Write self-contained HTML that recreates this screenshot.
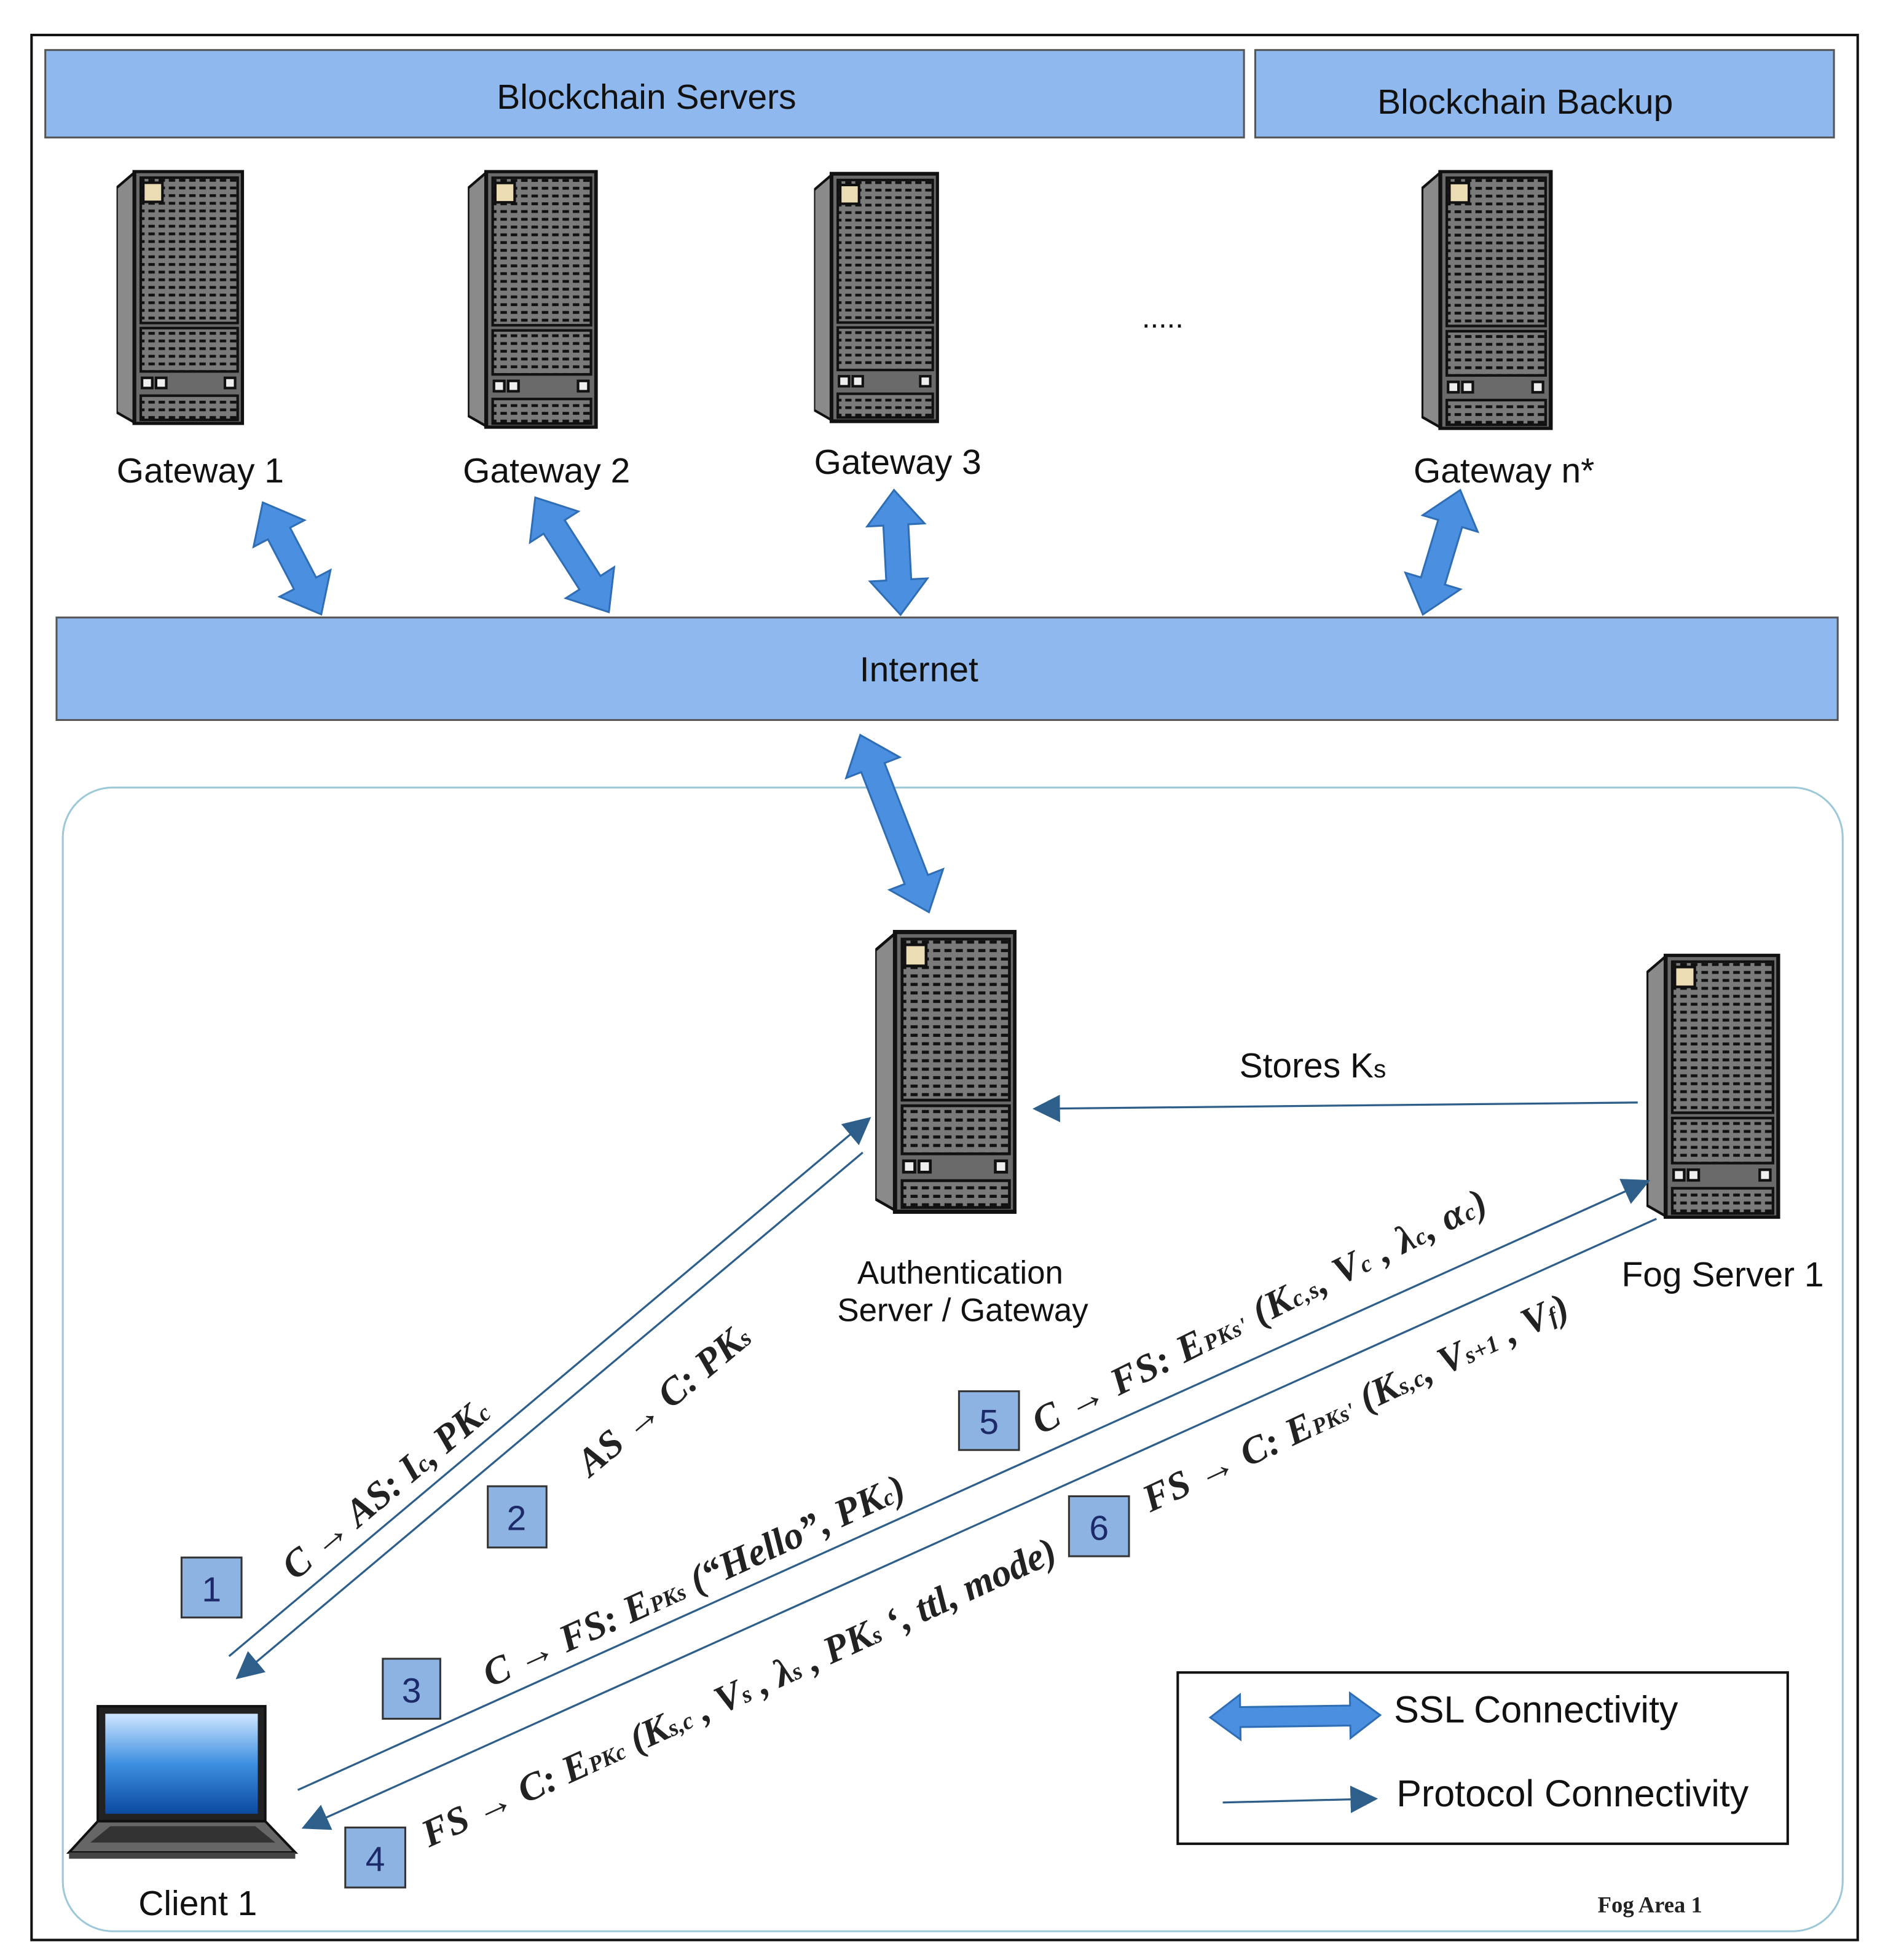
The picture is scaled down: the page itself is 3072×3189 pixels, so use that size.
<!DOCTYPE html>
<html><head><meta charset="utf-8"><style>
html,body{margin:0;padding:0;background:#fff}
svg{display:block}
.s{font-family:"Liberation Sans",sans-serif;fill:#111}
.m{font-family:"Liberation Serif",serif;font-weight:bold;font-style:italic;fill:#222;font-size:31px}
.n{font-family:"Liberation Sans",sans-serif;fill:#1c2a6a;font-size:28px;text-anchor:middle}
</style></head><body>
<svg width="3072" height="3189" viewBox="0 0 1510 1568" xmlns="http://www.w3.org/2000/svg">
<defs>
<pattern id="g" width="8" height="6" patternUnits="userSpaceOnUse">
<rect width="8" height="6" fill="#7a7a7a"/><rect x="1" y="1" width="5" height="2.2" fill="#111"/>
</pattern>
<symbol id="srv" viewBox="0 0 100 200">
<polygon points="0,14 14,2 14,198 0,190" fill="#8a8a8a" stroke="#111" stroke-width="2"/>
<rect x="14" y="1" width="85" height="198" fill="#6a6a6a" stroke="#111" stroke-width="3"/>
<rect x="19" y="6" width="76" height="114" fill="url(#g)" stroke="#111" stroke-width="2"/>
<rect x="19" y="124" width="76" height="34" fill="url(#g)" stroke="#111" stroke-width="2"/>
<rect x="19" y="177" width="76" height="19" fill="url(#g)" stroke="#111" stroke-width="2"/>
<rect x="21" y="10" width="15" height="15" fill="#ecdcb4" stroke="#111" stroke-width="2"/>
<rect x="20" y="163" width="8" height="8" fill="#eee" stroke="#111" stroke-width="2"/>
<rect x="31" y="163" width="8" height="8" fill="#eee" stroke="#111" stroke-width="2"/>
<rect x="85" y="163" width="8" height="8" fill="#eee" stroke="#111" stroke-width="2"/>
</symbol>
<marker id="tri" viewBox="0 0 10 10" refX="9" refY="5" markerWidth="22" markerHeight="22" markerUnits="userSpaceOnUse" orient="auto">
<path d="M0,0 L10,5 L0,10 z" fill="#2e5f8a"/>
</marker>
<linearGradient id="scr" x1="0" y1="0" x2="0" y2="1"><stop offset="0" stop-color="#cfe6ff"/><stop offset="0.5" stop-color="#3e8fe0"/><stop offset="1" stop-color="#0b4aa0"/></linearGradient>
</defs>

<rect x="25" y="28" width="1461" height="1524" fill="#fff" stroke="#111" stroke-width="2"/>
<rect x="36" y="40" width="959" height="70" fill="#8eb8ee" stroke="#555" stroke-width="1.5"/>
<text class="s" x="517" y="87" font-size="28" text-anchor="middle">Blockchain Servers</text>
<rect x="1004" y="40" width="463" height="70" fill="#8eb8ee" stroke="#555" stroke-width="1.5"/>
<text class="s" x="1220" y="91" font-size="28" text-anchor="middle">Blockchain Backup</text>

<use href="#srv" x="93" y="136" width="102" height="204" preserveAspectRatio="none"/>
<use href="#srv" x="374" y="136" width="104" height="207" preserveAspectRatio="none"/>
<use href="#srv" x="651" y="136" width="100" height="204" preserveAspectRatio="none"/>
<use href="#srv" x="1137" y="136" width="105" height="208" preserveAspectRatio="none"/>
<use href="#srv" x="700" y="742" width="113" height="231" preserveAspectRatio="none"/>
<use href="#srv" x="1317" y="763" width="107" height="212" preserveAspectRatio="none"/>

<text class="s" x="160" y="386" font-size="28" text-anchor="middle">Gateway 1</text>
<text class="s" x="437" y="386" font-size="28" text-anchor="middle">Gateway 2</text>
<text class="s" x="718" y="379" font-size="28" text-anchor="middle">Gateway 3</text>
<text class="s" x="930" y="262" font-size="24" text-anchor="middle">.....</text>
<text class="s" x="1203" y="386" font-size="28" text-anchor="middle">Gateway n*</text>

<rect x="45" y="494" width="1425" height="82" fill="#8eb8ee" stroke="#555" stroke-width="1.5"/>
<text class="s" x="735" y="545" font-size="28" text-anchor="middle">Internet</text>

<rect x="50" y="630" width="1424" height="915" rx="40" fill="none" stroke="#9cc8d8" stroke-width="1.5"/>

<g fill="#4a8fe0" stroke="#2f6db5" stroke-width="1.5">
<polygon transform="translate(210,402) rotate(62.4)" points="0,0 28,-23 28,-10 73,-10 73,-23 101,0 73,23 73,10 28,10 28,23"/>
<polygon transform="translate(428,398) rotate(57.3)" points="0,0 28,-23 28,-10 81,-10 81,-23 109,0 81,23 81,10 28,10 28,23"/>
<polygon transform="translate(715,392) rotate(87)" points="0,0 28,-23 28,-10 72,-10 72,-23 100,0 72,23 72,10 28,10 28,23"/>
<polygon transform="translate(1168,392) rotate(106.7)" points="0,0 28,-23 28,-10 76,-10 76,-23 104,0 76,23 76,10 28,10 28,23"/>
<polygon transform="translate(688,588) rotate(68.8)" points="0,0 28,-23 28,-10 124,-10 124,-23 152,0 124,23 124,10 28,10 28,23"/>
<polygon transform="translate(968,1374) rotate(-0.8)" points="0,0 24,-18 24,-8 112,-8 112,-18 136,0 112,18 112,8 24,8 24,18"/>
</g>

<rect x="78" y="1365" width="134" height="92" fill="#222" stroke="#111" stroke-width="2"/>
<rect x="84" y="1371" width="122" height="80" fill="url(#scr)"/>
<polygon points="78,1457 212,1457 236,1482 55,1482" fill="#666" stroke="#111" stroke-width="2"/>
<polygon points="88,1461 204,1461 220,1474 72,1474" fill="#333"/>
<rect x="55" y="1482" width="181" height="5" fill="#444"/>
<text class="s" x="158" y="1532" font-size="28" text-anchor="middle">Client 1</text>

<text class="s" x="768" y="1027" font-size="26" text-anchor="middle">Authentication</text>
<text class="s" x="770" y="1057" font-size="26" text-anchor="middle">Server / Gateway</text>
<text class="s" x="1378" y="1029" font-size="28" text-anchor="middle">Fog Server 1</text>
<text class="s" x="1050" y="862" font-size="28" text-anchor="middle">Stores K<tspan font-size="20">s</tspan></text>

<g stroke="#2e5f8a" stroke-width="1.6" fill="none">
<line x1="1310" y1="882" x2="828" y2="887" marker-end="url(#tri)"/>
<line x1="183" y1="1325" x2="695" y2="895" marker-end="url(#tri)"/>
<line x1="690" y1="922" x2="190" y2="1342" marker-end="url(#tri)"/>
<line x1="238" y1="1432" x2="1318" y2="945" marker-end="url(#tri)"/>
<line x1="1325" y1="975" x2="243" y2="1462" marker-end="url(#tri)"/>
<line x1="978" y1="1442" x2="1100" y2="1439" marker-end="url(#tri)"/>
</g>

<g fill="#8db3e2" stroke="#333" stroke-width="1.5">
<rect x="145" y="1246" width="48" height="48"/>
<rect x="390" y="1189" width="47" height="49"/>
<rect x="306" y="1327" width="46" height="48"/>
<rect x="276" y="1462" width="48" height="48"/>
<rect x="767" y="1113" width="48" height="47"/>
<rect x="855" y="1197" width="48" height="48"/>
</g>
<text class="n" x="169" y="1281">1</text>
<text class="n" x="413" y="1224">2</text>
<text class="n" x="329" y="1362">3</text>
<text class="n" x="300" y="1497">4</text>
<text class="n" x="791" y="1147">5</text>
<text class="n" x="879" y="1232">6</text>

<text class="m" transform="translate(236,1265) rotate(-40)">C → AS: I<tspan font-size="19">c</tspan>, PK<tspan font-size="19">c</tspan></text>
<text class="m" transform="translate(472,1182) rotate(-40)">AS → C: PK<tspan font-size="19">s</tspan></text>
<text class="m" transform="translate(392,1350) rotate(-24.5)">C → FS: E<tspan font-size="18">PKs</tspan> (“Hello”, PK<tspan font-size="19">c</tspan>)</text>
<text class="m" transform="translate(343,1478) rotate(-24.5)">FS → C: E<tspan font-size="18">PKc</tspan> (K<tspan font-size="19">s,c</tspan> , V<tspan font-size="19">s</tspan> , λ<tspan font-size="19">s</tspan> , PK<tspan font-size="19">s</tspan> ‘, ttl, mode)</text>
<text class="m" transform="translate(832,1148) rotate(-26.5)" textLength="402" lengthAdjust="spacing">C → FS: E<tspan font-size="18">PKs'</tspan> (K<tspan font-size="19">c,s</tspan>, V<tspan font-size="19">c</tspan> , λ<tspan font-size="19">c</tspan>, α<tspan font-size="19">c</tspan>)</text>
<text class="m" transform="translate(920,1210) rotate(-25)" textLength="372" lengthAdjust="spacing">FS → C: E<tspan font-size="18">PKs'</tspan> (K<tspan font-size="19">s,c</tspan>, V<tspan font-size="19">s+1</tspan> , V<tspan font-size="19">f</tspan>)</text>

<rect x="942" y="1338" width="488" height="137" fill="none" stroke="#111" stroke-width="2"/>
<text class="s" x="1115" y="1378" font-size="30">SSL Connectivity</text>
<text class="s" x="1117" y="1445" font-size="30">Protocol Connectivity</text>
<text x="1278" y="1530" font-family="Liberation Serif,serif" font-weight="bold" font-size="18" fill="#222">Fog Area 1</text>
</svg>
</body></html>
